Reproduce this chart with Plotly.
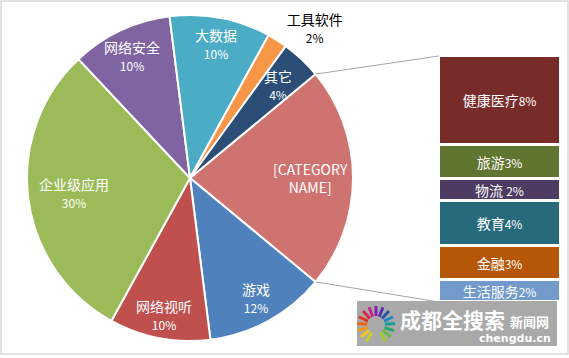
import plotly.graph_objects as go
import math

W, H = 569, 358

# ---- data ----
pie_labels = ["[CATEGORY NAME]", "游戏", "网络视听", "企业级应用", "网络安全", "大数据", "工具软件", "其它"]
pie_values = [22, 12, 10, 30, 10, 10, 2, 4]
pie_colors = ["#CF7371", "#4F81BD", "#C0504D", "#9BBB59", "#8064A2", "#4BACC6", "#F79646", "#2C4D75"]

bar_labels = ["健康医疗", "旅游", "物流", "教育", "金融", "生活服务"]
bar_values = [8, 3, 2, 4, 3, 2]
bar_colors = ["#772C2A", "#5F7530", "#4D3B62", "#276A7C", "#B65708", "#729ACA"]
bar_seps = ["", "", " ", "", "", ""]

# label placement style (fraction of radius along each slice bisector)
label_radius = [0.74, 0.84, 0.85, 0.72, 0.83, 0.84, None, 0.79]

FONT = "Noto Sans CJK SC, Noto Sans, sans-serif"

def px(x):
    return x / W

def py(y):
    return 1 - y / H

# pie geometry (pixels)
cx, cy, r = 190, 178, 163

total = sum(pie_values)
other_share = pie_values[0] / total
half_ang = other_share * 360 / 2

# only the small outside slice uses the pie's own text
pie_text = [f"{lab}<br><span style='font-size:12px'>{v}%</span>" if f is None else ""
            for lab, v, f in zip(pie_labels, pie_values, label_radius)]
textpos = ["outside" if f is None else "none" for f in label_radius]

fig = go.Figure()
fig.add_trace(go.Pie(
    labels=pie_labels, values=pie_values, text=pie_text,
    texttemplate="%{text}", textposition=textpos,
    textfont=dict(family=FONT, size=14, color="#000000"),
    marker=dict(colors=pie_colors, line=dict(color="white", width=2)),
    sort=False, direction="clockwise", rotation=90 - half_ang,
    domain=dict(x=[px(cx - r), px(cx + r)], y=[py(cy + r), py(cy - r)]),
    showlegend=False, hoverinfo="label+value",
))

# inside labels along slice bisectors
start = -half_ang
for lab, v, f in zip(pie_labels, pie_values, label_radius):
    span = v / total * 360
    mid = math.radians(start + span / 2)
    start += span
    if f is None:
        continue
    if lab.startswith("["):
        txt = "[CATEGORY<br>NAME]"
    else:
        txt = f"{lab}<br><span style='font-size:12px'>{v}%</span>"
    lx = cx + f * r * math.cos(mid)
    ly = cy + f * r * math.sin(mid)
    fig.add_annotation(x=px(lx), y=py(ly), xref="paper", yref="paper", text=txt, showarrow=False,
                       xanchor="center", yanchor="middle",
                       font=dict(family=FONT, size=14, color="white"))

# stacked bar (bottom-first)
for lab, v, col, sep in reversed(list(zip(bar_labels, bar_values, bar_colors, bar_seps))):
    fig.add_trace(go.Bar(
        x=[0], y=[v], marker=dict(color=col, line=dict(color="white", width=3)),
        text=[f"{lab}{sep}<span style='font-size:12px'>{v}%</span>"],
        texttemplate="%{text}", textposition="inside", insidetextanchor="middle",
        textfont=dict(family=FONT, size=14, color="white"),
        showlegend=False, width=1, hoverinfo="skip",
    ))

bx0, bx1, by0, by1 = 439, 561, 56, 302
fig.update_layout(
    width=W, height=H, margin=dict(l=0, r=0, t=0, b=0),
    paper_bgcolor="white", plot_bgcolor="rgba(0,0,0,0)",
    barmode="stack", bargap=0,
    uniformtext=dict(minsize=12, mode="show"),
    xaxis=dict(domain=[px(bx0), px(bx1)], range=[-0.5, 0.5], visible=False, fixedrange=True),
    yaxis=dict(domain=[py(by1), py(by0)], range=[0, sum(bar_values)], visible=False, fixedrange=True),
    font=dict(family=FONT),
)

# connector lines from pie edge to bar corners
a = math.radians(half_ang)
sx = cx + r * math.cos(a)
sy_top = cy - r * math.sin(a)
sy_bot = cy + r * math.sin(a)
fig.add_shape(type="line", xref="paper", yref="paper", x0=px(sx), y0=py(sy_top), x1=px(bx0), y1=py(by0),
              line=dict(color="#A6A6A6", width=1))
fig.add_shape(type="line", xref="paper", yref="paper", x0=px(sx), y0=py(sy_bot), x1=px(bx0), y1=py(by1),
              line=dict(color="#A6A6A6", width=1))

# chart border
fig.add_shape(type="rect", xref="paper", yref="paper", x0=px(1), y0=py(354), x1=px(568), y1=py(1),
              line=dict(color="#D9D9D9", width=1.5), fillcolor="rgba(0,0,0,0)")

# watermark box
fig.add_shape(type="rect", xref="paper", yref="paper", x0=px(357), y0=py(346), x1=px(557), y1=py(301),
              line=dict(width=0), fillcolor="#A9A9A9", layer="above")
# decorative logo ring
logo_cols = ["#9ACD32", "#66BB44", "#22AA66", "#11A0A0", "#1E88C8", "#2255AA", "#5533AA", "#8822AA",
             "#CC2288", "#DD2244", "#E53322", "#EE6611", "#F59A10", "#F5C518", "#C8D020"]
lcx, lcy = 376, 325
n = len(logo_cols)
for i, col in enumerate(logo_cols):
    ang = math.radians(-60 + 300 * i / (n - 1))
    ang = math.radians(60) + math.radians(300) * i / (n - 1) * -1 + math.radians(360)
    x0 = lcx + 9 * math.cos(ang); y0 = lcy + 9 * math.sin(ang)
    x1 = lcx + 19 * math.cos(ang); y1 = lcy + 19 * math.sin(ang)
    fig.add_shape(type="line", xref="paper", yref="paper", x0=px(x0), y0=py(y0), x1=px(x1), y1=py(y1),
                  line=dict(color=col, width=3), layer="above")
fig.add_annotation(x=px(398), y=py(319), xref="paper", yref="paper", xanchor="left", yanchor="middle",
                   text="<b>成都全搜索</b>", showarrow=False,
                   font=dict(family=FONT, size=21, color="white"))
fig.add_annotation(x=px(508), y=py(321), xref="paper", yref="paper", xanchor="left", yanchor="middle",
                   text="<b>新闻网</b>", showarrow=False,
                   font=dict(family=FONT, size=13, color="white"))
fig.add_annotation(x=px(553), y=py(338), xref="paper", yref="paper", xanchor="right", yanchor="middle",
                   text="<b>chengdu.cn</b>", showarrow=False,
                   font=dict(family="DejaVu Sans, sans-serif", size=11, color="white"))

fig.write_html("out.html", config={"displayModeBar": False},
               post_script="document.body.style.margin='0';document.body.style.overflow='hidden';")
